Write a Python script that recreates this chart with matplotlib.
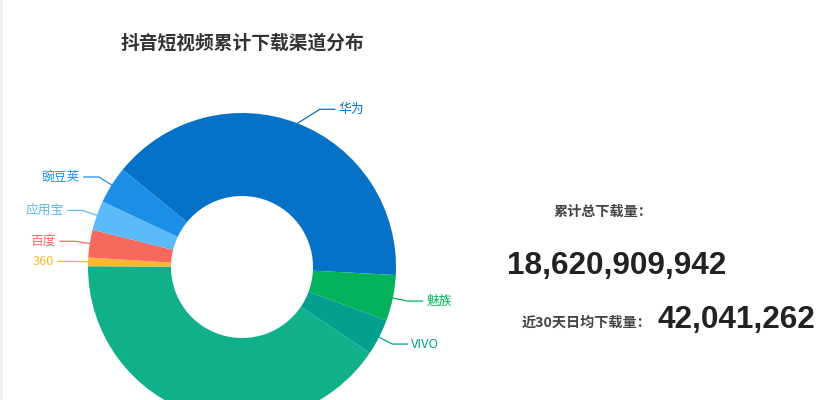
import numpy as np
import matplotlib.pyplot as plt

plt.rcParams['font.family'] = ['Noto Sans CJK SC', 'DejaVu Sans']

# share of downloads per channel (%), clockwise from the 华为 slice
channels = ['华为', '魅族', 'VIVO', 'OPPO', '360', '百度', '应用宝', '豌豆荚']
shares = [39.9, 4.8, 3.8, 40.6, 0.9, 2.9, 3.1, 3.9]
colors = ['#0572C8', '#03B25A', '#04A08E', '#10B08A', '#F7B731', '#F7695C', '#5BBAF9', '#1B8FE6']

title = '抖音短视频累计下载渠道分布'
total_label = '累计总下载量：'
total_downloads = 18620909942
daily_label = '近30天日均下载量：'
daily_downloads = 42041262

W, H = 827, 400
fig = plt.figure(figsize=(W / 100, H / 100), dpi=100)
ax = fig.add_axes([0, 0, 1, 1])

cx, cy = 242, 133
r_out, r_in = 154, 71
wedges, _ = ax.pie(shares, colors=colors, startangle=140.8, counterclock=False,
                   center=(cx, cy), radius=r_out,
                   wedgeprops=dict(width=r_out - r_in, linewidth=0))
ax.set_xlim(0, W)
ax.set_ylim(0, H)
ax.set_aspect('equal')
ax.axis('off')

# labels with leader lines like echarts
len1, len2 = 15, 15
elbow_shift = {'华为': 17}  # echarts pushes the top label sideways
for w, name, c in zip(wedges, channels, colors):
    a = np.deg2rad((w.theta1 + w.theta2) / 2)
    ca, sa = np.cos(a), np.sin(a)
    x0, y0 = cx + r_out * ca, cy + r_out * sa
    x1, y1 = cx + (r_out + len1) * ca, cy + (r_out + len1) * sa
    if y1 < 10:
        # label falls below the cropped picture
        continue
    side = 1 if ca >= 0 else -1
    x1 += side * elbow_shift.get(name, 0)
    x2 = x1 + side * len2
    ax.plot([x0, x1, x2], [y0, y1, y1], color=c, lw=0.9)
    ax.text(x2 + side * 4, y1, name, ha='left' if side > 0 else 'right',
            va='center', color=c, fontsize=9.2)

ax.text(cx, H - 43, title, ha='center', va='center', fontsize=13.5,
        fontweight='bold', color='#333333')

ax.text(652, H - 212, total_label, ha='right', va='center', fontsize=10.2,
        fontweight='bold', color='#444444')
ax.text(617, H - 266, f'{total_downloads:,}', ha='center', va='center',
        fontsize=22.7, fontweight='bold', family='Liberation Sans', color='#222222')
ax.text(651, H - 323, daily_label, ha='right', va='center', fontsize=10.2,
        fontweight='bold', color='#444444')
ax.text(658, H - 320, f'{daily_downloads:,}', ha='left', va='center',
        fontsize=22.7, fontweight='bold', family='Liberation Sans', color='#222222')

ax.axvline(1, color='#f0f0f0', lw=2)

fig.savefig('out.png', dpi=100)
